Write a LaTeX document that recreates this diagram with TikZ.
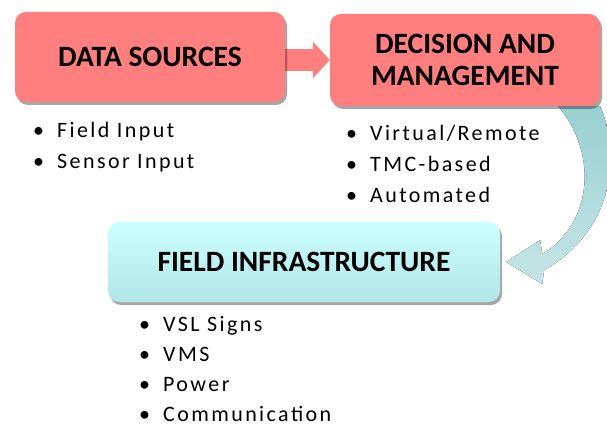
\documentclass[tikz,border=0pt]{standalone}
\usepackage{fontspec}
\setmainfont{Carlito}
\usetikzlibrary{arrows.meta}
\usetikzlibrary{backgrounds}
\usetikzlibrary{calc}
\usetikzlibrary{positioning}
\usetikzlibrary{shadows}

\definecolor{boxpink}{HTML}{FF7F7F}
\definecolor{boxcyantop}{HTML}{CCFFFF}
\definecolor{boxcyanbot}{HTML}{B2E6E6}
\definecolor{loopteal}{HTML}{98D0D2}

\newcommand{\dotitem}{\textbullet\hspace{13pt}}

\tikzset{
  stage/.style={rounded corners=11pt, minimum width=270pt, minimum height=90pt,
    align=center, font=\fontsize{29.5}{32}\selectfont\bfseries,
    drop shadow={shadow xshift=2pt, shadow yshift=-3pt, opacity=0.35, fill=black}},
  hotstage/.style={stage, fill=boxpink},
  coolstage/.style={stage, top color=boxcyantop, bottom color=boxcyanbot},
  bullets/.style={anchor=north west, align=left, inner sep=0pt,
    font=\fontsize{22}{31}\selectfont\addfontfeature{LetterSpace=11}}
}

\begin{document}
\begin{tikzpicture}[x=1pt,y=-1pt]
  \useasboundingbox (0,0) rectangle (607,430);

  \node [hotstage] (src) at (150,57) {DATA SOURCES};
  \node [hotstage, minimum height=92pt] (dec) at (465,60) {DECISION AND\\MANAGEMENT};
  \node [coolstage, minimum width=392pt, minimum height=80pt] (fld) at (304,262) {FIELD INFRASTRUCTURE};

  \node [bullets] (src_list) at (33,122)
    {\dotitem Field Input\\ \dotitem Sensor Input};
  \node [bullets] (dec_list) at (346,125)
    {\dotitem Virtual/Remote\\ \dotitem TMC-based\\ \dotitem Automated};
  \node [bullets, font=\fontsize{22}{30.2}\selectfont\addfontfeature{LetterSpace=11}]
    (fld_list) at (139,316)
    {\dotitem VSL Signs\\ \dotitem VMS\\ \dotitem Power\\ \dotitem Communication};

  \begin{scope}[on background layer]
    \draw [line width=22pt, boxpink, -{Triangle[width=36pt,length=17pt]}]
      (src.east |- dec.west) -- (dec.west);
    \fill [top color=loopteal, bottom color=loopteal!55]
      ($(dec.south east)+(-42,0)$) -- (dec.south east)
      .. controls ($(dec.south east)+(25,60)$) and ($(dec.south east)+(5,130)$) .. ($(fld.east)+(44,8)$)
      -- ($(fld.east)+(42,22)$) -- ($(fld.east)+(6,0)$) -- ($(fld.east)+(40,-22)$)
      -- ($(fld.east)+(42,-8)$)
      .. controls ($(dec.south east)+(-10,120)$) and ($(dec.south east)+(0,50)$) .. cycle;
  \end{scope}
\end{tikzpicture}
\end{document}
